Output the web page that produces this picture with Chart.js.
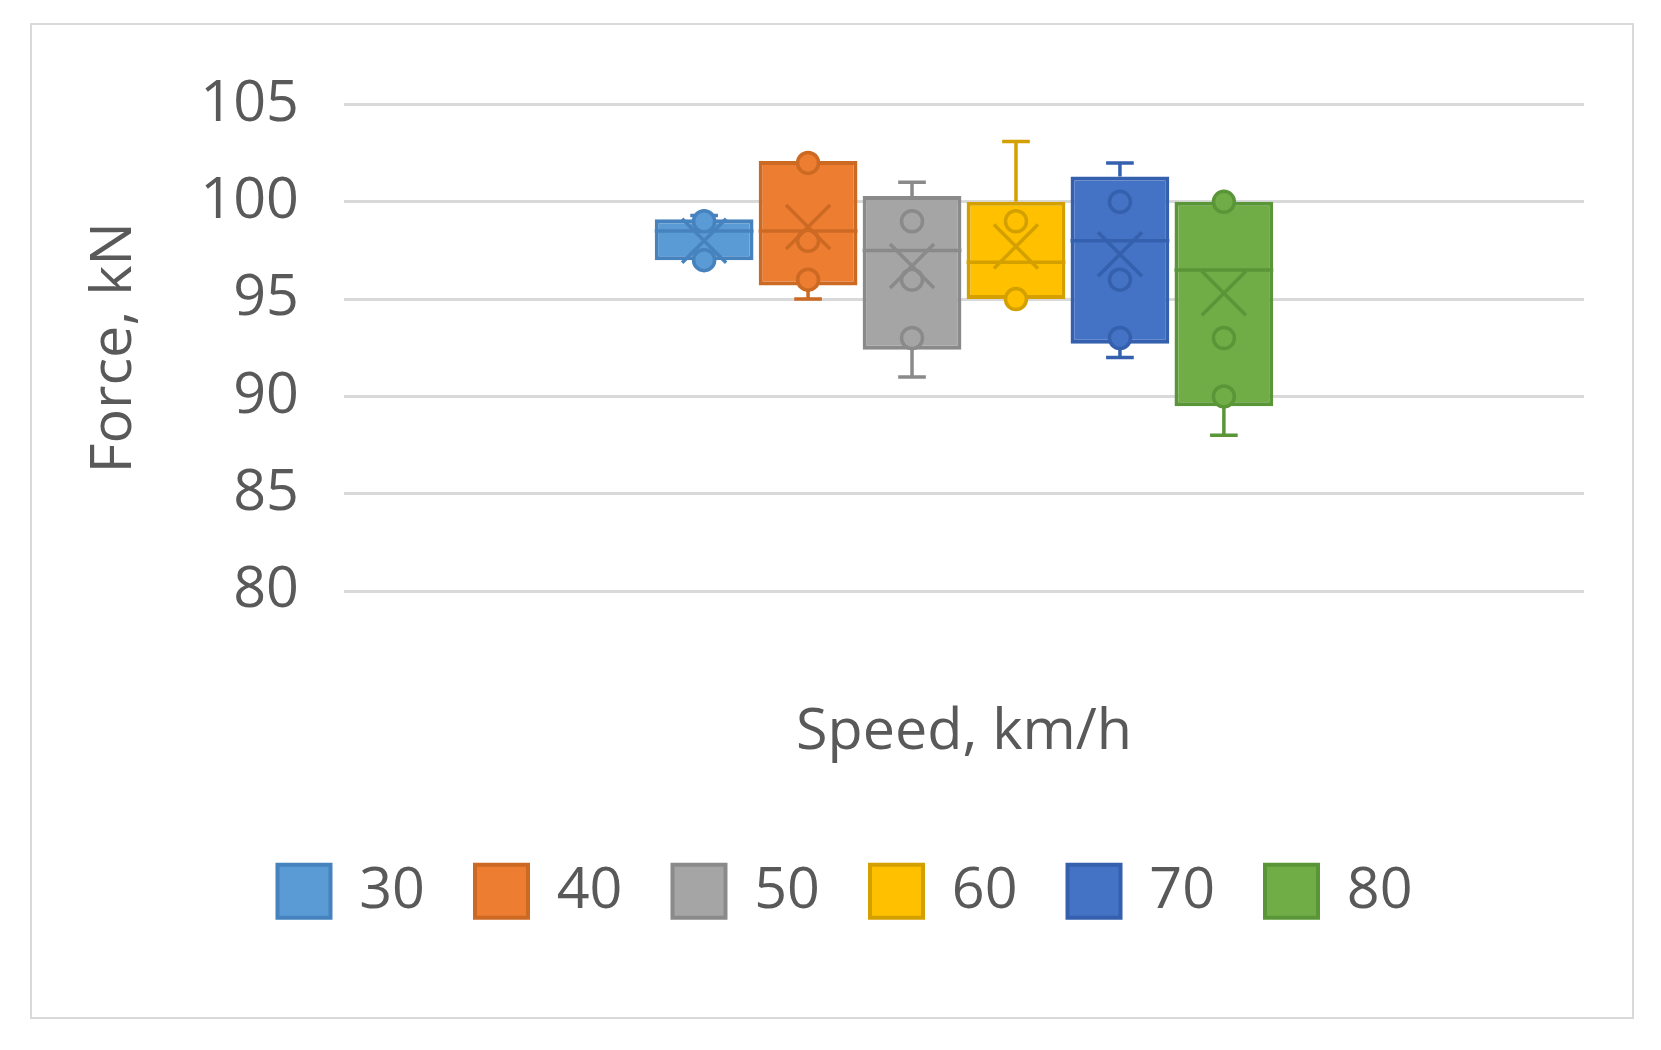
<!DOCTYPE html>
<html>
<head>
<meta charset="utf-8">
<script src="https://cdn.jsdelivr.net/npm/chart.js@4.4.1/dist/chart.umd.min.js"></script>
<style>
    html, body { margin: 0; padding: 0; background: #fff; }
    #frame {
        position: absolute;
        left: 30px; top: 23px;
        width: 1600px; height: 992px;
        border: 2px solid #d9d9d9;
    }
</style>
</head>
<body>
<div id="frame"><canvas id="boxChart" width="1600" height="992"></canvas></div>
<script>
// Force (kN) at each speed
const speeds = ['30', '40', '50', '60', '70', '80'];
const mins = [97, 95, 91, 95, 92, 88];
const q1s = [97, 95.7, 92.4, 95, 92.7, 89.5];
const medians = [98.5, 98.5, 97.5, 96.9, 98, 96.5];
const q3s = [99.1, 102.1, 100.3, 100, 101.3, 100];
const maxs = [99.3, 102.1, 101, 103.1, 102, 100];
const means = [98, 98.7, 96.7, 97.7, 97.3, 95.3];
const innerPoints = [
    [97, 99],
    [96, 98, 102],
    [93, 96, 99],
    [95, 99],
    [93, 96, 100],
    [90, 93, 100]
];
const yTicks = [80, 85, 90, 95, 100, 105];

const fills = ['#5B9BD5', '#ED7D31', '#A5A5A5', '#FFC000', '#4472C4', '#70AD47'];
const lines = ['#4682BE', '#CC6A24', '#8A8A8A', '#D4A000', '#3560AE', '#5A9638'];

const FONT = "'Open Sans', 'DejaVu Sans', sans-serif";
const FSIZE = 57.5;
const TEXT = '#595959';

// draws whiskers, median, mean X and inner points on top of the floating bars
const boxPlugin = {
    id: 'boxExtras',
    afterDatasetsDraw(chart) {
        const ctx = chart.ctx;
        const y = chart.scales.y;
        chart.data.datasets.forEach((ds, i) => {
            const bar = chart.getDatasetMeta(i).data[0];
            const cx = bar.x;
            const half = bar.width / 2;
            const cap = bar.width * 0.14;
            ctx.save();
            ctx.strokeStyle = lines[i];
            ctx.lineWidth = 3.5;
            ctx.lineCap = 'butt';

            // whiskers
            const yMax = y.getPixelForValue(maxs[i]);
            const yQ3 = y.getPixelForValue(q3s[i]);
            const yQ1 = y.getPixelForValue(q1s[i]);
            const yMin = y.getPixelForValue(mins[i]);
            ctx.beginPath();
            if (maxs[i] > q3s[i]) {
                ctx.moveTo(cx, yQ3); ctx.lineTo(cx, yMax);
                ctx.moveTo(cx - cap, yMax); ctx.lineTo(cx + cap, yMax);
            }
            if (mins[i] < q1s[i]) {
                ctx.moveTo(cx, yQ1); ctx.lineTo(cx, yMin);
                ctx.moveTo(cx - cap, yMin); ctx.lineTo(cx + cap, yMin);
            }
            ctx.stroke();

            // median
            const yMed = y.getPixelForValue(medians[i]);
            ctx.beginPath();
            ctx.moveTo(cx - half, yMed);
            ctx.lineTo(cx + half, yMed);
            ctx.stroke();

            // inner points
            innerPoints[i].forEach(v => {
                ctx.beginPath();
                ctx.arc(cx, y.getPixelForValue(v), 10.5, 0, Math.PI * 2);
                ctx.fillStyle = fills[i];
                ctx.fill();
                ctx.stroke();
            });

            // mean marker
            const yMean = y.getPixelForValue(means[i]);
            const m = 22;
            ctx.beginPath();
            ctx.moveTo(cx - m, yMean - m); ctx.lineTo(cx + m, yMean + m);
            ctx.moveTo(cx + m, yMean - m); ctx.lineTo(cx - m, yMean + m);
            ctx.stroke();
            ctx.restore();
        });
    }
};

const datasets = speeds.map((s, i) => ({
    label: s,
    data: [[q1s[i], q3s[i]]],
    backgroundColor: fills[i],
    borderColor: lines[i],
    borderWidth: 4,
    borderSkipped: false,
    barPercentage: 0.95,
    categoryPercentage: 0.503
}));

new Chart(document.getElementById('boxChart'), {
    type: 'bar',
    data: { labels: [''], datasets: datasets },
    plugins: [boxPlugin],
    options: {
        responsive: false,
        animation: false,
        layout: { padding: { top: 78, right: 48, bottom: 87, left: 74 } },
        plugins: {
            tooltip: { enabled: false },
            legend: {
                position: 'bottom',
                labels: {
                    color: TEXT,
                    font: { family: FONT, size: FSIZE },
                    boxWidth: 53,
                    boxHeight: 53,
                    padding: 50
                }
            }
        },
        scales: {
            x: {
                grid: { display: false, drawTicks: false },
                border: { display: false },
                ticks: { display: false },
                title: {
                    display: true,
                    text: 'Speed, km/h',
                    color: TEXT,
                    font: { family: FONT, size: FSIZE },
                    padding: { top: 0, bottom: 45 }
                },
                afterFit: scale => { scale.height = 221.5; }
            },
            y: {
                min: 80,
                max: 105,
                afterBuildTicks: scale => {
                    scale.ticks = yTicks.map(v => ({ value: v }));
                },
                grid: { color: '#d9d9d9', lineWidth: 3, drawTicks: false },
                border: { display: false },
                ticks: {
                    color: TEXT,
                    font: { family: FONT, size: FSIZE },
                    padding: 45
                },
                title: {
                    display: true,
                    text: 'Force, kN',
                    color: TEXT,
                    font: { family: FONT, size: FSIZE },
                    padding: { top: -25.5, bottom: 0 }
                },
                afterFit: scale => { scale.width = 238; }
            }
        }
    }
});
</script>
</body>
</html>
